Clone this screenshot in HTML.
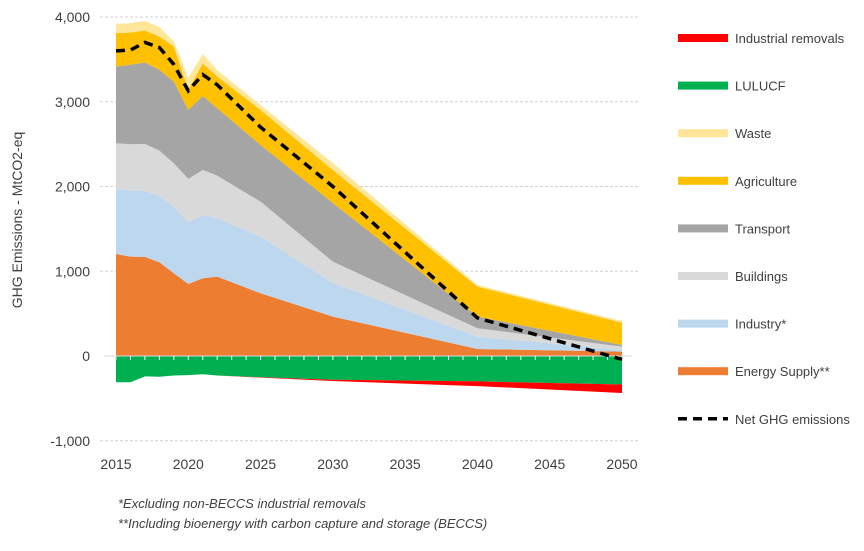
<!DOCTYPE html>
<html><head><meta charset="utf-8"><style>
body{margin:0;background:#fff;font-family:"Liberation Sans",sans-serif;}
svg text{font-family:"Liberation Sans",sans-serif;fill:#404040;}
</style></head><body>
<svg width="864" height="546" viewBox="0 0 864 546">
<g id="grid"></g><g id="areas"></g><g id="axis"></g><g id="net"></g><g id="legend"></g>
<text x="22" y="220" font-size="14" text-anchor="middle" transform="rotate(-90 22 220)">GHG Emissions - MtCO2-eq</text>
<text x="118" y="508" font-size="13" font-style="italic">*Excluding non-BECCS industrial removals</text>
<text x="118" y="528" font-size="13" font-style="italic">**Including bioenergy with carbon capture and storage (BECCS)</text>
</svg>
<script>
const years=[2015,2016,2017,2018,2019,2020,2021,2022,2025,2030,2040,2050];
const energySupply=[1204,1172,1169,1106,976,850,917,936,740,464,83,51];
const industry=[767,780,783,783,787,728,748,690,668,397,145,20];
const buildings=[540,547,551,535,511,512,531,503,413,252,99,39];
const transport=[905,937,960,953,965,814,872,795,669,692,137,20];
const agriculture=[394,381,378,393,415,236,385,376,413,390,354,263];
const waste=[110,111,114,110,57,140,110,75,59,82,20,20];
const lulucf=[-310,-310,-240,-245,-230,-225,-215,-230,-250,-280,-300,-337];
const industrialRemovals=[0,0,0,0,0,0,0,0,-5,-15,-55,-100];
const netEmissions=[3600,3610,3700,3640,3440,3130,3320,3200,2700,2000,450,-40];
const yTicks=[4000,3000,2000,1000,0,-1000];
const yTickLabels=["4,000","3,000","2,000","1,000","0","-1,000"];
const xTicks=[2015,2020,2025,2030,2035,2040,2045,2050];
const NS="http://www.w3.org/2000/svg";
const X=y=>116+(y-2015)*(622-116)/35;
const Y=v=>356-v*0.08475;
function mk(t,a,p){const e=document.createElementNS(NS,t);for(const k in a)e.setAttribute(k,a[k]);p.appendChild(e);return e;}
const grid=document.getElementById('grid'),areas=document.getElementById('areas'),axis=document.getElementById('axis');
yTicks.forEach((v,i)=>{
  if(v!==0){const l=mk('line',{x1:100,x2:640,y1:Y(v),y2:Y(v),stroke:'#d0d0d0','stroke-dasharray':'3,2'},grid);
  
  }
  const t=mk('text',{x:90,y:Y(v)+5,'text-anchor':'end','font-size':14},axis);t.textContent=yTickLabels[i];
  
  
});
xTicks.forEach(y=>{const t=mk('text',{x:X(y),y:469,'text-anchor':'middle','font-size':14},axis);t.textContent=y;
  
  });
function band(lo,hi,color,name){
  let d='M'+years.map((y,i)=>X(y)+','+Y(hi[i])).join('L');
  for(let i=years.length-1;i>=0;i--)d+='L'+X(years[i])+','+Y(lo[i]);
  const p=mk('path',{d:d+'Z',fill:color},areas);
  
  
}
const stacks=[[energySupply,'#ed7d31','area-energy-supply'],[industry,'#bdd7ee','area-industry'],[buildings,'#d9d9d9','area-buildings'],[transport,'#a5a5a5','area-transport'],[agriculture,'#ffc000','area-agriculture'],[waste,'#ffe699','area-waste']];
let base=years.map(()=>0);
stacks.forEach(([s,c,n])=>{const top=base.map((b,i)=>b+s[i]);band(base,top,c,n);base=top;});
const zero=years.map(()=>0);
band(zero,lulucf,'#00b050','area-lulucf');
band(lulucf,lulucf.map((v,i)=>v+industrialRemovals[i]),'#ff0000','area-industrial-removals');
const al=mk('line',{x1:104,x2:632,y1:Y(0),y2:Y(0),stroke:'#d9d9d9','stroke-width':1},axis);


for(let y=2015;y<=2050;y++){const tk=mk('line',{x1:X(y),x2:X(y),y1:Y(0),y2:Y(0)+4,stroke:y===2015||y===2050?'#d9d9d9':'#ffffff'},axis);
  
  }
const net=mk('polyline',{points:years.map((y,i)=>X(y)+','+Y(netEmissions[i])).join(' '),fill:'none',stroke:'#000','stroke-width':3.5,'stroke-dasharray':'9,6'},document.getElementById('net'));


const leg=[['Industrial removals','#ff0000'],['LULUCF','#00b050'],['Waste','#ffe699'],['Agriculture','#ffc000'],['Transport','#a5a5a5'],['Buildings','#d9d9d9'],['Industry*','#bdd7ee'],['Energy Supply**','#ed7d31'],['Net GHG emissions',null]];
const lg=document.getElementById('legend');
leg.forEach(([t,c],i)=>{const cy=38+i*47.6;
  const g=mk('g',{},lg);
  
  
  if(c)mk('rect',{x:678,y:cy-4,width:50,height:8,fill:c},g);
  else mk('line',{x1:678,x2:728,y1:cy,y2:cy,stroke:'#000','stroke-width':3.5,'stroke-dasharray':'9,6'},g);
  const tx=mk('text',{x:735,y:cy+5,'font-size':13},g);tx.textContent=t;});
</script>
</body></html>
